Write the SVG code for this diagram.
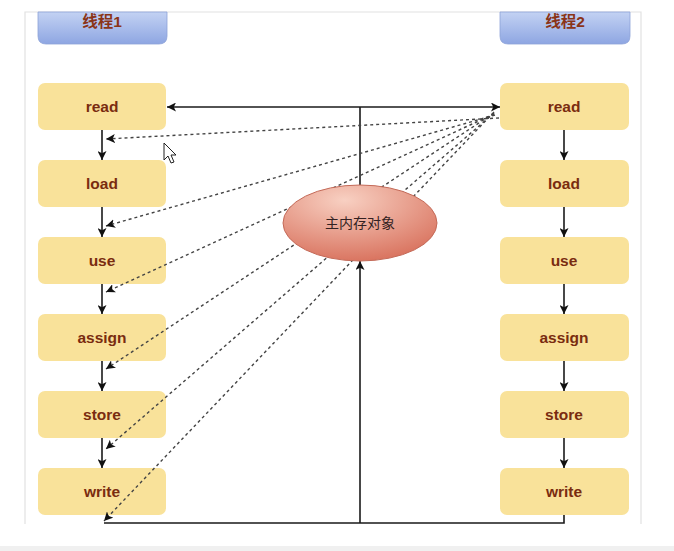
<svg xmlns="http://www.w3.org/2000/svg" width="674" height="551" viewBox="0 0 674 551">
<style>
.box{fill:#f9e29a;}
.lbl{font-family:"Liberation Sans",Arial,sans-serif;font-weight:bold;font-size:15.5px;fill:#7a2c10;text-anchor:middle;}
.hdr{font-family:"Liberation Sans","Noto Sans CJK SC",sans-serif;font-weight:bold;font-size:15.5px;fill:#8a3418;text-anchor:middle;}
.solid{stroke:#1a1a1a;stroke-width:1.6;fill:none;}
.dash{stroke:#444;stroke-width:1.4;fill:none;stroke-dasharray:3 3;}
</style>
<defs>
<marker id="ah" viewBox="0 0 10 10" refX="10" refY="5" markerWidth="9" markerHeight="9" markerUnits="userSpaceOnUse" orient="auto">
<path d="M0,0 L10,5 L0,10 L2.5,5 Z" fill="#111"/>
</marker>
<linearGradient id="hg" x1="0" y1="0" x2="0" y2="1">
<stop offset="0" stop-color="#c3d2f3"/>
<stop offset="1" stop-color="#8ea6e2"/>
</linearGradient>
<radialGradient id="eg" cx="0.4" cy="0.2" r="0.9">
<stop offset="0" stop-color="#f8d0c2"/>
<stop offset="1" stop-color="#d66a55"/>
</radialGradient>
</defs>
<rect x="0" y="0" width="674" height="551" fill="#ffffff"/>
<rect x="0" y="546" width="674" height="5" fill="#f0f0f0"/>
<path d="M25,524 L25,12 L641,12 L641,524" fill="none" stroke="#e2e2e2" stroke-width="1.2"/>

<g id="thread1">
<path d="M38,12 H167 V36 Q167,44 159,44 H46 Q38,44 38,36 Z" fill="url(#hg)" stroke="#8da2d8" stroke-width="0.8"/>
<text class="hdr" x="102" y="27">线程1</text>
</g>
<g id="thread2">
<path d="M500,12 H630 V36 Q630,44 622,44 H508 Q500,44 500,36 Z" fill="url(#hg)" stroke="#8da2d8" stroke-width="0.8"/>
<text class="hdr" x="565" y="27">线程2</text>
</g>

<g id="left-read"><rect class="box" x="38" y="83" width="128" height="47" rx="7"/><text class="lbl" x="102" y="112">read</text></g>
<g id="left-load"><rect class="box" x="38" y="160" width="128" height="47" rx="7"/><text class="lbl" x="102" y="189">load</text></g>
<g id="left-use"><rect class="box" x="38" y="237" width="128" height="47" rx="7"/><text class="lbl" x="102" y="266">use</text></g>
<g id="left-assign"><rect class="box" x="38" y="314" width="128" height="47" rx="7"/><text class="lbl" x="102" y="343">assign</text></g>
<g id="left-store"><rect class="box" x="38" y="391" width="128" height="47" rx="7"/><text class="lbl" x="102" y="420">store</text></g>
<g id="left-write"><rect class="box" x="38" y="468" width="128" height="47" rx="7"/><text class="lbl" x="102" y="497">write</text></g>

<g id="right-read"><rect class="box" x="500" y="83" width="129" height="47" rx="7"/><text class="lbl" x="564" y="112">read</text></g>
<g id="right-load"><rect class="box" x="500" y="160" width="129" height="47" rx="7"/><text class="lbl" x="564" y="189">load</text></g>
<g id="right-use"><rect class="box" x="500" y="237" width="129" height="47" rx="7"/><text class="lbl" x="564" y="266">use</text></g>
<g id="right-assign"><rect class="box" x="500" y="314" width="129" height="47" rx="7"/><text class="lbl" x="564" y="343">assign</text></g>
<g id="right-store"><rect class="box" x="500" y="391" width="129" height="47" rx="7"/><text class="lbl" x="564" y="420">store</text></g>
<g id="right-write"><rect class="box" x="500" y="468" width="129" height="47" rx="7"/><text class="lbl" x="564" y="497">write</text></g>

<g id="connectors">
<line class="solid" x1="102" y1="130" x2="102" y2="160" marker-end="url(#ah)"/>
<line class="solid" x1="102" y1="207" x2="102" y2="237" marker-end="url(#ah)"/>
<line class="solid" x1="102" y1="284" x2="102" y2="314" marker-end="url(#ah)"/>
<line class="solid" x1="102" y1="361" x2="102" y2="391" marker-end="url(#ah)"/>
<line class="solid" x1="102" y1="438" x2="102" y2="468" marker-end="url(#ah)"/>
<line class="solid" x1="564" y1="130" x2="564" y2="160" marker-end="url(#ah)"/>
<line class="solid" x1="564" y1="207" x2="564" y2="237" marker-end="url(#ah)"/>
<line class="solid" x1="564" y1="284" x2="564" y2="314" marker-end="url(#ah)"/>
<line class="solid" x1="564" y1="361" x2="564" y2="391" marker-end="url(#ah)"/>
<line class="solid" x1="564" y1="438" x2="564" y2="468" marker-end="url(#ah)"/>
<line class="solid" x1="360" y1="107" x2="167" y2="107" marker-end="url(#ah)"/>
<line class="solid" x1="360" y1="107" x2="500" y2="107" marker-end="url(#ah)"/>
<line class="solid" x1="360" y1="107" x2="360" y2="186"/>
<path class="solid" d="M564,515 V523 H104"/>
<line class="solid" x1="360" y1="523" x2="360" y2="261" marker-end="url(#ah)"/>
<line class="dash" x1="499" y1="118" x2="106" y2="139" marker-end="url(#ah)"/>
<line class="dash" x1="495" y1="115" x2="106" y2="226" marker-end="url(#ah)"/>
<line class="dash" x1="494" y1="114" x2="106" y2="292" marker-end="url(#ah)"/>
<line class="dash" x1="494" y1="113" x2="106" y2="369" marker-end="url(#ah)"/>
<line class="dash" x1="494" y1="113" x2="106" y2="449" marker-end="url(#ah)"/>
<line class="dash" x1="494" y1="112" x2="104" y2="521" marker-end="url(#ah)"/>
</g>

<g id="main-memory">
<ellipse cx="360" cy="223" rx="77" ry="38" fill="url(#eg)" stroke="#c46a58" stroke-width="1"/>
<text x="360" y="228" font-family="'Noto Sans CJK SC',sans-serif" font-size="14" fill="#332222" text-anchor="middle">主内存对象</text>
</g>

<g id="cursor">
<path d="M164,143 L164,160 L168,156 L171,163 L174,162 L171,155 L176,155 Z" fill="#ffffff" stroke="#222" stroke-width="1"/>
</g>
</svg>
